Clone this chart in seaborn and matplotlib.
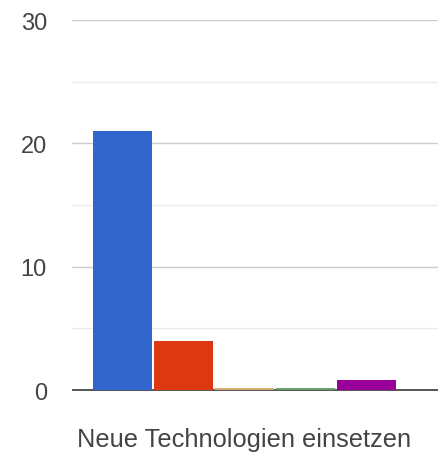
import matplotlib
matplotlib.use("Agg")
import matplotlib.pyplot as plt
import seaborn as sns
import pandas as pd

# data
category = ["Neue Technologien einsetzen"]
series = ["A", "B", "C", "D", "E"]
values = [21, 4, 0.2, 0.2, 0.85]
colors = ["#3366cc", "#dc3912", "#d6ac72", "#6a9f72", "#990099"]

df = pd.DataFrame({
    "cat": category * len(series),
    "series": series,
    "value": values,
})

sns.set_theme(style="white")
plt.rcParams["font.family"] = ["Liberation Sans", "DejaVu Sans"]

fig = plt.figure(figsize=(4.39, 4.56), dpi=100)
ax = fig.add_axes([72 / 439, 64 / 456, 1 - 72 / 439, (435 - 64) / 456])

sns.barplot(data=df, x="cat", y="value", hue="series", palette=colors,
            saturation=1, width=0.8, gap=0.03, legend=False, ax=ax,
            zorder=3, linewidth=0)

ax.set_xlim(-0.4525, 0.51)
ax.set_ylim(-0.08, 30)
ax.set_yticks([0, 10, 20, 30])
ax.set_yticks([5, 15, 25], minor=True)
ax.grid(axis="y", which="major", color="#cccccc", lw=1, zorder=0)
ax.grid(axis="y", which="minor", color="#ececec", lw=1, zorder=0)
ax.axhline(0, color="#555555", lw=1.4, zorder=2)
ax.set_axisbelow(True)

for s in ax.spines.values():
    s.set_visible(False)
ax.tick_params(axis="y", which="both", length=0, pad=18, labelsize=17, labelcolor="#444444")
ax.tick_params(axis="x", length=0, pad=26, labelsize=18.3, labelcolor="#444444")
ax.set_xlabel("")
ax.set_ylabel("")

fig.savefig("out.png", dpi=100)
